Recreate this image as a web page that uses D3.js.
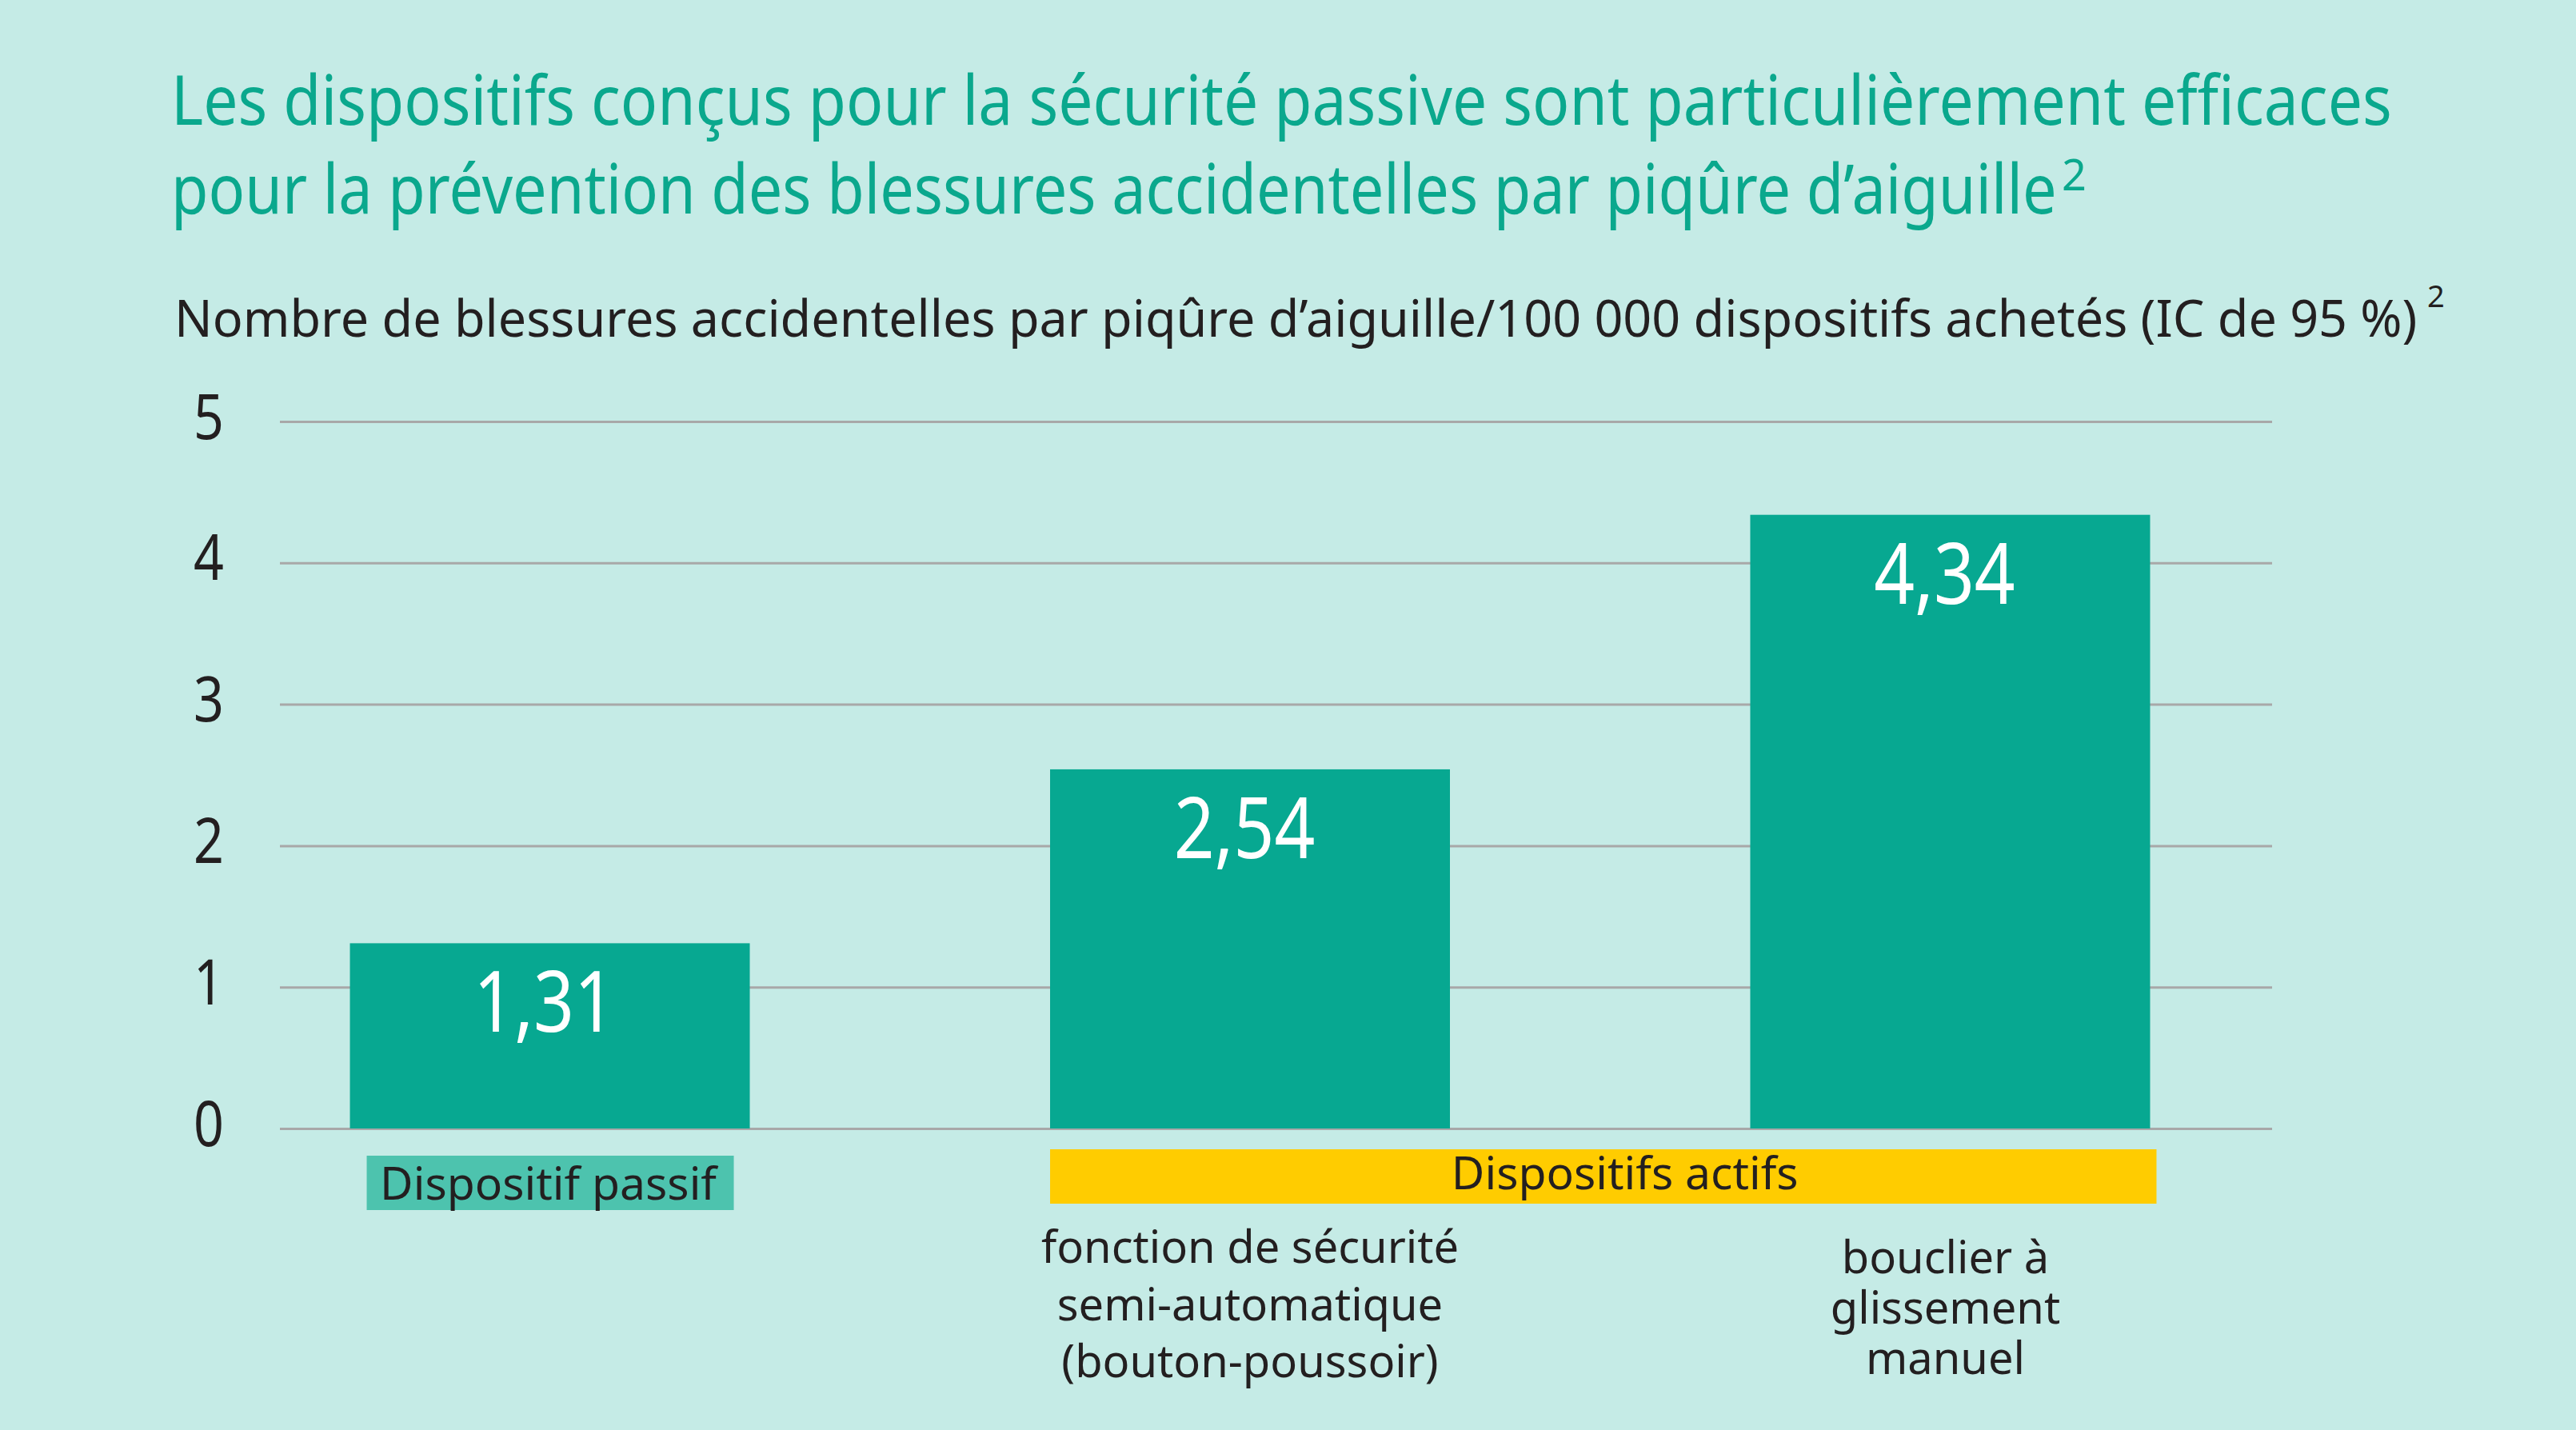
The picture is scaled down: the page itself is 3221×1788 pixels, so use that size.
<!DOCTYPE html>
<html>
<head>
<meta charset="utf-8">
<script src="https://cdn.jsdelivr.net/npm/d3@7"></script>
<style>
  html, body { margin: 0; padding: 0; background: #C5EBE6; }
  svg { display: block; }
  text { font-family: "Noto Sans", "Open Sans", sans-serif; }
</style>
</head>
<body>
<svg id="chart"></svg>
<script>
const W = 3221, H = 1788;

// data
const titleLines = [
  "Les dispositifs conçus pour la sécurité passive sont particulièrement efficaces",
  "pour la prévention des blessures accidentelles par piqûre d’aiguille"
];
const subtitle = "Nombre de blessures accidentelles par piqûre d’aiguille/100 000 dispositifs achetés (IC de 95 %)";
const refMark = "2";
const categories = ["passif", "semi-automatique", "bouclier"];
const values = [1.31, 2.54, 4.34];
const yTicks = [0, 1, 2, 3, 4, 5];
const groups = [
  {name: "Dispositif passif", from: "passif", to: "passif"},
  {name: "Dispositifs actifs", from: "semi-automatique", to: "bouclier"}
];
const subLabels = [
  [],
  ["fonction de sécurité", "semi-automatique", "(bouton-poussoir)"],
  ["bouclier à", "glissement", "manuel"]
];

const teal = "#07A891", ink = "#231F20";
const fr = d3.formatLocale({decimal: ",", thousands: "\u00a0", grouping: [3], currency: ["", " €"]});
const fmt = fr.format(".2f");

const svg = d3.select("#chart").attr("width", W).attr("height", H);
svg.append("rect").attr("width", W).attr("height", H).attr("fill", "#C5EBE6");

// narrow the glyphs horizontally (the original face is condensed)
// scale about the text's own anchor x so positions stay put
function condense(sel, k) {
  sel.each(function() {
    const t = d3.select(this);
    const w = this.getComputedTextLength();
    const kk = typeof k === "function" ? k(w) : k;
    const ax = +t.attr("x");
    t.attr("transform", `translate(${ax},0) scale(${kk},1) translate(${-ax},0)`);
  });
}
const toWidth = target => w => target / w;

// titles
const tl = svg.append("g").selectAll("text").data(titleLines).join("text")
  .attr("x", 214)
  .attr("y", (d, i) => 156 + i * 111)
  .attr("fill", "#0AA88D")
  .style("font-size", "86px")
  .text(d => d);
tl.filter((d, i) => i === 0).call(condense, toWidth(2777));
tl.filter((d, i) => i === 1).call(condense, toWidth(2358));
svg.append("text").attr("x", 2578).attr("y", 238)
  .attr("fill", "#0AA88D").style("font-size", "54px").text(refMark);

svg.append("text").attr("x", 218).attr("y", 421)
  .attr("fill", ink).style("font-size", "63px")
  .text(subtitle).call(condense, toWidth(2805));
svg.append("text").attr("x", 3035).attr("y", 384)
  .attr("fill", ink).style("font-size", "38px").text(refMark);

// scales
const y = d3.scaleLinear().domain([0, 5]).range([1411, 527]);
const gx0 = 350, gx1 = 2841;
const x = d3.scaleBand().domain(categories).range([350, 2776])
  .paddingInner(0.4289).paddingOuter(0.1);

// grid + tick labels
const axis = svg.append("g")
  .attr("transform", `translate(${gx0},0)`)
  .call(d3.axisLeft(y).tickValues(yTicks).tickSize(-(gx1 - gx0)).tickFormat(d3.format("d")));
axis.select(".domain").remove();
axis.selectAll(".tick line").attr("stroke", "#A8A8A8").attr("stroke-width", 3);
axis.selectAll(".tick text")
  .attr("x", -89).attr("y", 21).attr("dy", null)
  .attr("text-anchor", "middle")
  .attr("fill", ink)
  .style("font-size", "78px")
  .style("font-family", "'Noto Sans', sans-serif")
  .call(condense, 0.85);

// bars
svg.append("g").selectAll("rect").data(values).join("rect")
  .attr("x", (d, i) => x(categories[i]))
  .attr("y", d => y(d))
  .attr("width", x.bandwidth())
  .attr("height", d => y(0) - y(d))
  .attr("fill", teal);

svg.append("g").selectAll("text").data(values).join("text")
  .attr("x", (d, i) => x(categories[i]) + x.bandwidth() / 2 - 7)
  .attr("y", d => y(d) + 111)
  .attr("text-anchor", "middle")
  .attr("fill", "#fff")
  .style("font-size", "106px")
  .text(d => fmt(d))
  .call(condense, 0.84);

// group boxes
const gb = svg.append("g").selectAll("g").data(groups).join("g");
gb.append("rect")
  .attr("x", (d, i) => i === 0 ? x(d.from) + 21 : x(d.from))
  .attr("y", (d, i) => i === 0 ? 1445 : 1437)
  .attr("width", (d, i) => i === 0 ? x.bandwidth() - 41 : x(d.to) + x.bandwidth() + 8 - x(d.from))
  .attr("height", 68)
  .attr("fill", (d, i) => i === 0 ? "#4DC3AE" : "#FFCC00");
gb.append("text")
  .attr("x", (d, i) => i === 0 ? x(d.from) + x.bandwidth() / 2 - 2 : (x(d.from) + x(d.to) + x.bandwidth() + 8) / 2 + 27)
  .attr("y", (d, i) => i === 0 ? 1500 : 1487)
  .attr("text-anchor", "middle")
  .attr("fill", ink)
  .style("font-size", "57px")
  .text(d => d.name);

// sub labels under the active devices, one text per category, a tspan per line
const firstLine = [0, 1579, 1592], lineGap = [0, 71.5, 63];
subLabels.forEach((lines, i) => {
  if (!lines.length) return;
  const cx = x(categories[i]) + x.bandwidth() / 2 - (i === 2 ? 6 : 0);
  svg.append("text")
    .attr("x", cx)
    .attr("y", firstLine[i])
    .attr("text-anchor", "middle")
    .attr("fill", ink)
    .style("font-size", "56px")
    .selectAll("tspan").data(lines).join("tspan")
      .attr("x", cx)
      .attr("dy", (d, j) => j ? lineGap[i] : 0)
      .text(d => d);
});
</script>
</body>
</html>
